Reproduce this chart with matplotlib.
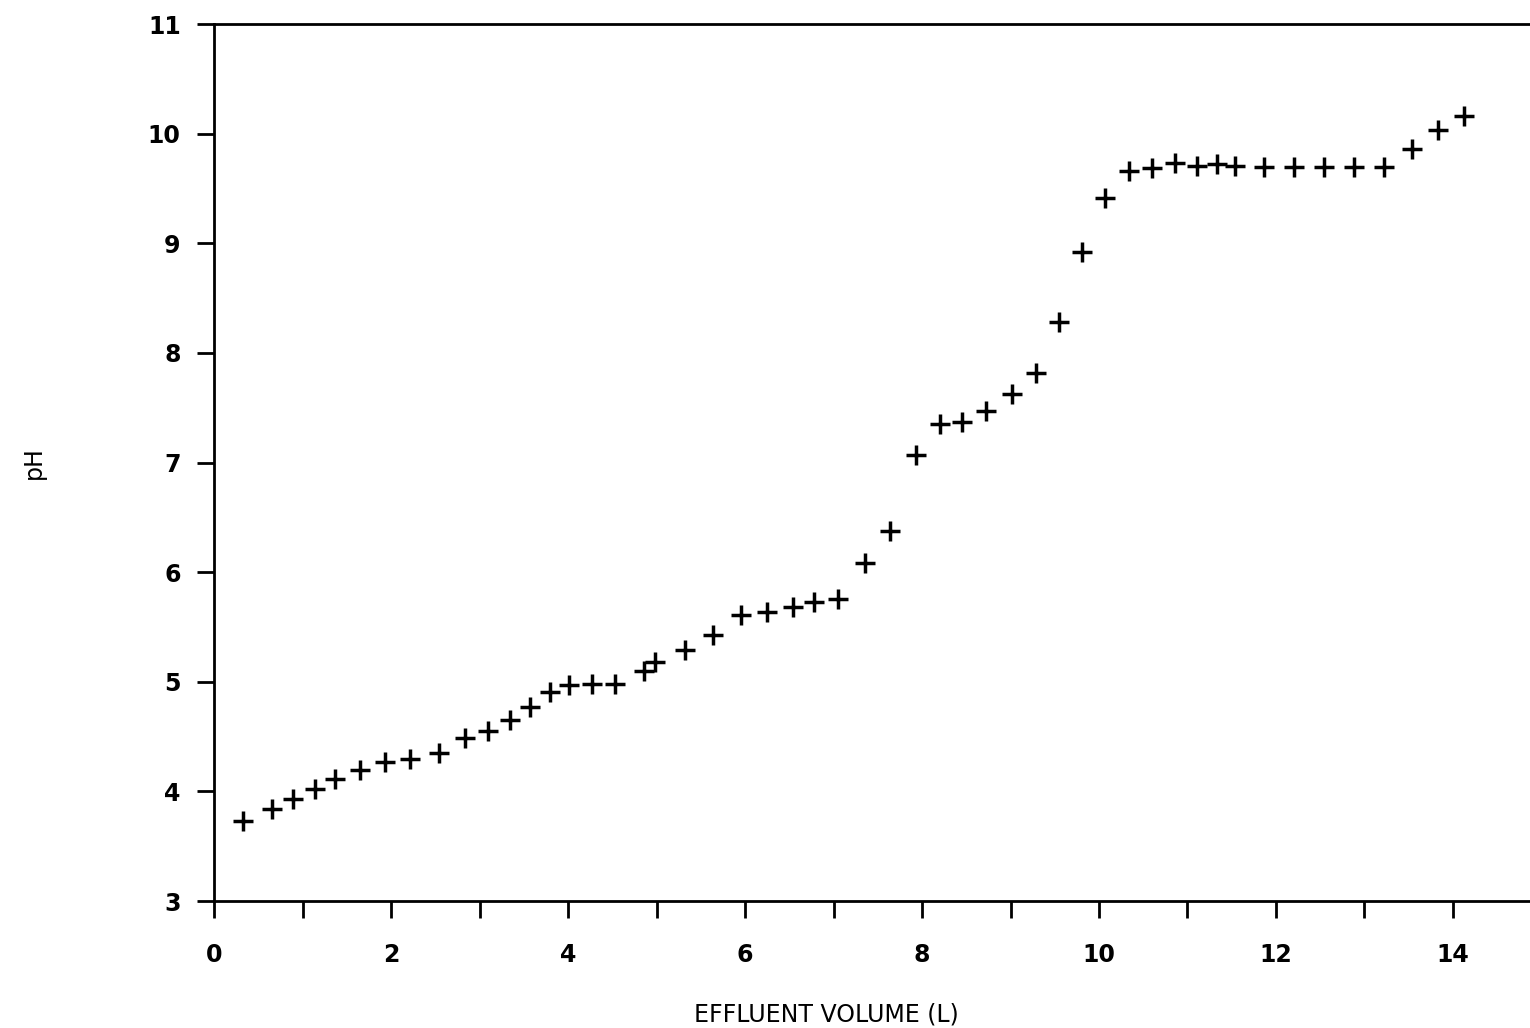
import matplotlib.pyplot as plt

volume = [0.33, 0.66, 0.89, 1.14, 1.37, 1.65, 1.93, 2.21, 2.54, 2.84,
          3.10, 3.34, 3.57, 3.80, 4.01, 4.27, 4.53, 4.86, 4.98, 5.32,
          5.64, 5.95, 6.25, 6.54, 6.78, 7.05, 7.36, 7.64, 7.93, 8.20,
          8.45, 8.72, 9.02, 9.29, 9.55, 9.81, 10.07, 10.34, 10.60, 10.86,
          11.11, 11.33, 11.54, 11.86, 12.20, 12.54, 12.88, 13.22, 13.54,
          13.83, 14.12]
ph = [3.73, 3.84, 3.93, 4.02, 4.11, 4.20, 4.27, 4.30, 4.35, 4.49,
      4.55, 4.65, 4.77, 4.91, 4.97, 4.98, 4.98, 5.10, 5.18, 5.29,
      5.43, 5.61, 5.64, 5.68, 5.73, 5.76, 6.08, 6.38, 7.07, 7.35,
      7.37, 7.47, 7.63, 7.82, 8.28, 8.92, 9.41, 9.66, 9.69, 9.73,
      9.71, 9.72, 9.71, 9.70, 9.70, 9.70, 9.70, 9.70, 9.86, 10.03,
      10.16]

x_ticks = list(range(0, 16))
x_labels = [str(v) if v % 2 == 0 and v <= 14 else "" for v in x_ticks]
y_ticks = list(range(3, 12))

fig = plt.figure(figsize=(15.3, 10.28), dpi=100)
# right edge runs off the page, as in the scan
ax = fig.add_axes([0.1399, 0.1235, 0.8676, 0.853])

ax.plot(volume, ph, linestyle="none", marker="+", color="black",
        markersize=15, markeredgewidth=2.5)

ax.set_xlim(0, 15)
ax.set_ylim(3, 11)
ax.set_xticks(x_ticks)
ax.set_xticklabels(x_labels)
ax.set_yticks(y_ticks)

for side in ("left", "bottom", "top"):
    ax.spines[side].set_linewidth(2.0)
ax.spines["right"].set_visible(False)

ax.tick_params(axis="both", direction="out", length=12, width=2.0,
               labelsize=17)
ax.tick_params(axis="x", pad=18)
ax.tick_params(axis="y", pad=12)
for lab in ax.get_xticklabels() + ax.get_yticklabels():
    lab.set_fontweight("bold")

ax.set_xlabel("EFFLUENT VOLUME (L)", fontsize=17)
ax.xaxis.set_label_coords((826 - 214) / 1327.5, -0.116)
ax.set_ylabel("pH", fontsize=17)
ax.yaxis.set_label_coords(-0.127, 0.5)

fig.savefig("out.png", dpi=100)
